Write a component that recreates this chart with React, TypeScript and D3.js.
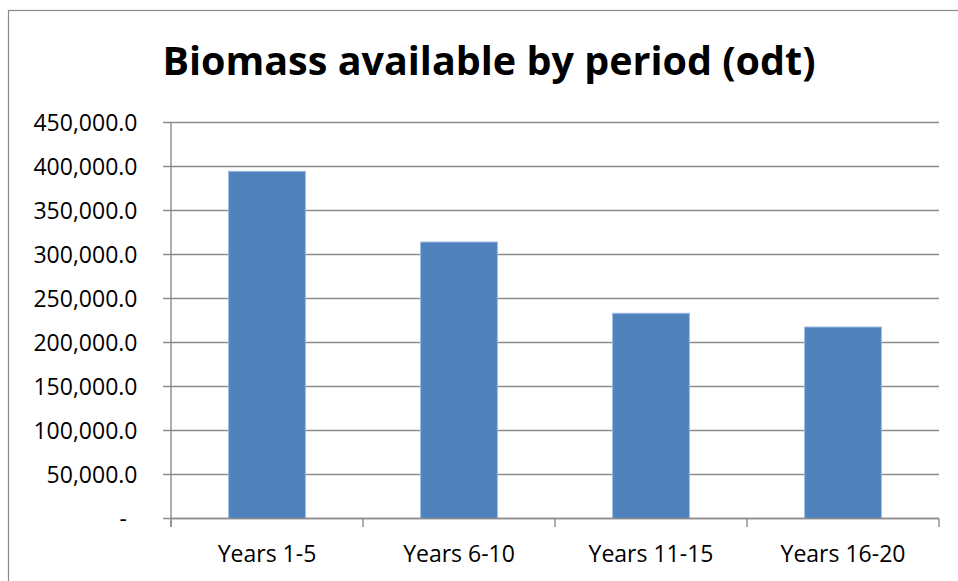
import React, { useEffect, useRef } from 'react'
import * as d3 from 'd3'

const periods = ['Years 1-5', 'Years 6-10', 'Years 11-15', 'Years 16-20']
const biomass = [394500, 314200, 233200, 217600]
const yTicks = [0, 50000, 100000, 150000, 200000, 250000, 300000, 350000, 400000, 450000]
const title = 'Biomass available by period (odt)'

const W = 958
const H = 581
const FONT = "'Open Sans', 'Noto Sans', sans-serif"

function drawChart(el: SVGSVGElement) {
  const svg = d3.select(el)
  svg.selectAll('*').remove()

  const plot = { left: 171, right: 939, top: 122.5, bottom: 518.5 }

  // outer chart border
  svg.append('rect')
    .attr('x', 8.5).attr('y', 10.5)
    .attr('width', W + 20).attr('height', H + 20)
    .attr('fill', 'white')
    .attr('stroke', '#8a8a8a').attr('stroke-width', 1.2)

  svg.append('text')
    .attr('x', 489).attr('y', 75)
    .attr('text-anchor', 'middle')
    .attr('font-family', FONT)
    .attr('font-weight', 'bold')
    .attr('font-size', 39.5)
    .attr('fill', '#000')
    .text(title)

  const x = d3.scaleBand()
    .domain(periods)
    .range([plot.left, plot.right])
    .paddingInner(0.6)
    .paddingOuter(0.3)

  const y = d3.scaleLinear()
    .domain([0, 450000])
    .range([plot.bottom, plot.top])

  // gridlines + y tick marks
  svg.append('g')
    .selectAll('line')
    .data(yTicks)
    .join('line')
    .attr('x1', plot.left - 8).attr('x2', plot.right)
    .attr('y1', d => y(d)).attr('y2', d => y(d))
    .attr('stroke', '#8c8c8c').attr('stroke-width', 1.4)

  // y axis labels
  const fmt = d3.format(',.1f')
  svg.append('g')
    .selectAll('text')
    .data(yTicks)
    .join('text')
    .attr('x', d => d === 0 ? plot.left - 44 : plot.left - 33.5)
    .attr('y', d => y(d))
    .attr('dy', '0.36em')
    .attr('text-anchor', 'end')
    .attr('font-family', FONT)
    .attr('font-size', 23)
    .attr('fill', '#000')
    .text(d => d === 0 ? '-' : fmt(d))

  // bars
  svg.append('g')
    .selectAll('rect')
    .data(biomass)
    .join('rect')
    .attr('x', (d, i) => x(periods[i]) as number)
    .attr('width', x.bandwidth())
    .attr('y', d => y(d))
    .attr('height', d => plot.bottom - y(d))
    .attr('fill', '#4f81bd')
    .attr('stroke', '#9dbbe2')
    .attr('stroke-width', 1)

  // y axis line
  svg.append('line')
    .attr('x1', plot.left).attr('x2', plot.left)
    .attr('y1', plot.top).attr('y2', plot.bottom + 8.5)
    .attr('stroke', '#8c8c8c').attr('stroke-width', 1.4)

  // x axis line
  svg.append('line')
    .attr('x1', plot.left).attr('x2', plot.right)
    .attr('y1', plot.bottom).attr('y2', plot.bottom)
    .attr('stroke', '#8c8c8c').attr('stroke-width', 1.4)

  // category boundary ticks
  const bounds = d3.range(periods.length + 1).map(i => plot.left + i * (plot.right - plot.left) / periods.length)
  svg.append('g')
    .selectAll('line')
    .data(bounds)
    .join('line')
    .attr('x1', d => d).attr('x2', d => d)
    .attr('y1', plot.bottom).attr('y2', plot.bottom + 8.5)
    .attr('stroke', '#8c8c8c').attr('stroke-width', 1.4)

  // category labels
  svg.append('g')
    .selectAll('text')
    .data(periods)
    .join('text')
    .attr('x', d => (x(d) as number) + x.bandwidth() / 2)
    .attr('y', 562)
    .attr('text-anchor', 'middle')
    .attr('font-family', FONT)
    .attr('font-size', 23)
    .attr('fill', '#000')
    .text(d => d)
}

export default function App() {
  const ref = useRef<SVGSVGElement>(null)
  useEffect(() => {
    if (ref.current) drawChart(ref.current)
  }, [])
  return (
    <svg
      ref={ref}
      width={W}
      height={H}
      style={{ position: 'absolute', left: 0, top: 0, background: 'white' }}
    />
  )
}
